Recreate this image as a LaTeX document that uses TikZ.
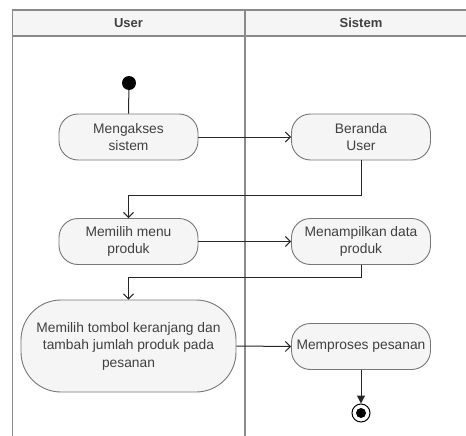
\documentclass[tikz,border=0pt]{standalone}
\usepackage{fontspec}
\setmainfont{Liberation Sans}
\usetikzlibrary{arrows.meta,positioning}
\definecolor{lane}{HTML}{8A8A8A}
\definecolor{actfill}{HTML}{F5F5F5}
\definecolor{actline}{HTML}{777777}
\definecolor{txt}{HTML}{404040}
\tikzset{
  act/.style={draw=actline, fill=actfill, line width=0.9pt, rounded corners=19pt,
    minimum width=139pt, minimum height=46pt, align=center, text=txt,
    font=\fontsize{13.8}{17.5}\selectfont, inner sep=1pt},
  flow/.style={draw=black!85, line width=1pt, -{Straight Barb[length=5pt,width=10pt,line width=1pt]}},
  endflow/.style={draw=black!85, line width=1pt, -{Triangle[length=8pt,width=8pt]}},
  lanetitle/.style={text=txt, font=\fontsize{13}{15}\selectfont\bfseries},
}
\begin{document}
\begin{tikzpicture}[x=1pt,y=-1pt]
\useasboundingbox (0,0) rectangle (466,436);
% swimlanes
\fill[actfill] (12.5,10) rectangle (466,36);
\draw[lane, line width=1.3pt] (466,10) -- (12.5,10) -- (12.5,436);
\draw[lane, line width=1.3pt] (12.5,36) -- (466,36);
\draw[lane, line width=1.3pt] (245,10) -- (245,436);
\node[lanetitle] (hUser) at (128.5,23) {User};
\node[lanetitle] (hSistem) at (361,23) {Sistem};
% start and end states
\node[circle, fill=black, minimum size=14pt, inner sep=0pt] (start) at (129,83) {};
\node[circle, draw=black, line width=1pt, fill=white, minimum size=18pt, inner sep=0pt] (stop) at (361,413) {};
\node[circle, fill=black, minimum size=10pt, inner sep=0pt] (stopdot) at (361,413) {};
% actions
\node[act] (a1) at (128.5,137) {Mengakses\\sistem};
\node[act] (s1) at (361,137) {Beranda\\User};
\node[act] (a2) at (128.5,241.5) {Memilih menu\\produk};
\node[act] (s2) at (361,241.5) {Menampilkan data\\produk};
\node[act, minimum width=215pt, minimum height=92pt, rounded corners=40pt] (a3) at (128.5,346)
  {Memilih tombol keranjang dan\\tambah jumlah produk pada\\pesanan};
\node[act] (s3) at (361,346.5) {Memproses pesanan};
% turning points
\coordinate (j1) at (0,195);
\coordinate (j2) at (0,277);
% flows
\draw[black!85, line width=1pt] (start) -- (a1.north);
\draw[flow] (a1.east) -- (s1.west);
\draw[flow] (s1.south) -- (s1.south |- j1) -| (a2.north);
\draw[flow] (a2.east) -- (s2.west);
\draw[flow] (s2.south) -- (s2.south |- j2) -| (a3.north);
\draw[flow] (a3.east) -- (s3.west);
\draw[endflow] (s3.south) -- (stop.north);
\end{tikzpicture}
\end{document}
